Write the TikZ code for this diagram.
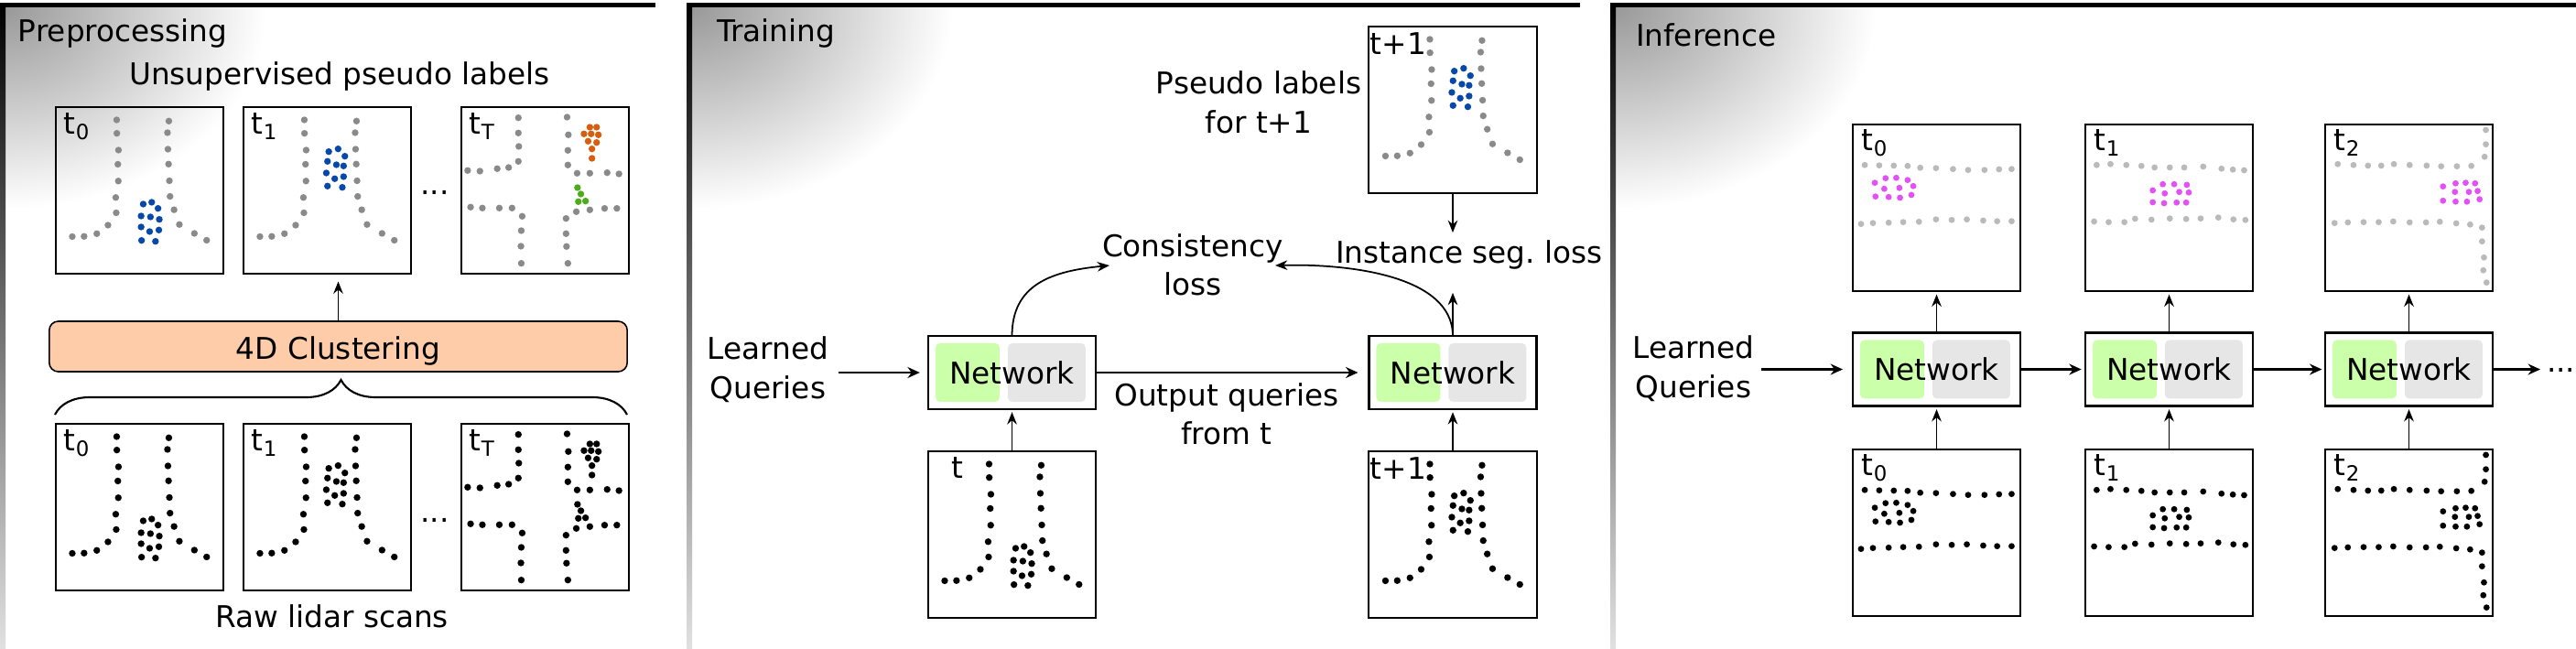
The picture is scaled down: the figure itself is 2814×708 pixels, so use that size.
\documentclass[tikz,border=0pt]{standalone}
\usepackage{fontspec}
\setmainfont{DejaVu Sans}
\usetikzlibrary{arrows.meta, calc, decorations.pathreplacing}
\frenchspacing

\definecolor{pgray}{RGB}{138,138,138}
\definecolor{lgray}{RGB}{186,186,186}
\definecolor{pblue}{RGB}{8,72,170}
\definecolor{porange}{RGB}{214,94,14}
\definecolor{pgreen}{RGB}{78,172,28}
\definecolor{pmag}{RGB}{226,80,246}
\definecolor{peach}{RGB}{255,204,170}
\definecolor{netgreen}{RGB}{204,255,170}
\definecolor{netgray}{RGB}{230,230,230}

% Y-shaped road (box-relative, pixels)
\def\Yroad{66.5/14, 66.7/28.7, 68.5/47, 67.8/62.5, 68.3/80.8, 65.5/98.8, 66/115.5, 57/129, 44.8/138.3, 30.9/141.3, 18/141.5, 123.5/15.3, 122/28, 122.5/46, 123.2/62.3, 124.1/80.5, 124.8/97.6, 129.2/112.2, 135/128.3, 151.4/138, 164.8/145.5}
\def\ClA{95.5/106, 104.8/104, 111.7/110.7, 93.2/119, 103.4/120, 113.1/122.7, 93.2/131, 102.5/136, 112.6/134.3, 93.7/145.7, 108.9/146.7}
\def\ClB{93.2/48.7, 103.4/45.7, 110.8/53.7, 91.8/59.3, 101.5/63, 109.4/64.3, 90.5/72, 99.7/78.3, 109.4/76, 91.8/86.3, 108/87.7}
% crossing
\def\Cross{62.3/11.7, 62.3/28.3, 62.8/43, 62.3/59.3, 6.9/69.3, 20.3/70, 39.2/67.3, 51.7/66, 115.5/11, 116.9/30.3, 116.4/47.3, 116.4/63.3, 126.5/72.3, 140.4/72.3, 159.3/71.7, 172.2/73, 10.1/109.3, 23/110.3, 41.5/110.3, 55.4/110.3, 66.5/119.3, 65.5/135, 65.1/152, 65.5/170.7, 125.6/114.3, 140.4/112.3, 156.5/110.7, 169.9/110.7, 114.4/121.7, 114.4/138.3, 114.9/152.3, 116.4/170.7}
\def\ClOr{140.4/22, 147.8/22, 134/29.3, 141.8/29.3, 149.7/30.3, 138.5/37.3, 147.8/38.7, 142.7/45.7, 142.7/56}
\def\ClGr{126.9/88, 130.6/95, 127.8/103.3, 135.7/102.7}
% inference roads
\def\RoadA{13.1/44.3, 28.9/44.7, 44.8/45, 59.9/45.3, 73.7/47.3, 90.9/47.7, 109.5/48.7, 126/49.7, 143.9/49.7, 159.8/49, 173.5/48.7, 9/108.7, 22/107.7, 39.2/107.3, 55.1/106.7, 72.3/106.3, 90.9/103.7, 108.1/104.3, 124.6/103.7, 142.5/105, 157.7/105.7, 173.5/105.7}
\def\MA{24.1/63.7, 35.8/58.7, 47.5/58.3, 59.9/60.7, 34.4/70.3, 50.9/69.3, 66.1/67.3, 24.8/78.7, 39.2/79.3, 51.6/80, 64/77}
\def\RoadB{12.4/44.3, 27.5/43.3, 44.8/44.3, 61.3/45.3, 75.7/47, 92.3/47, 108.1/47, 128.8/46, 148.8/48.3, 161.2/49.3, 173.5/50, 9.6/106, 25.5/106.7, 42.7/106.7, 54.4/103, 72.3/104, 92.3/102.7, 110.2/103.3, 126/102.7, 145.3/101.7, 161.8/103.7, 174.9/104.3}
\def\MB{84.7/65.3, 97.1/65.3, 110.9/66, 73.7/72, 86.8/75.3, 102.6/73.7, 113/74.3, 73.7/85, 86.1/86, 99.8/85.3, 110.2/85.3}
\def\RoadC{175.6/6, 175.6/21.7, 174.2/35.3, 13.8/43.3, 31/44.3, 46.8/45, 61.3/45, 75.1/43.3, 92.3/44.3, 110.9/45, 126.7/45.7, 143.9/45.7, 159.7/45.3, 10.3/107.7, 24.8/107, 42/106.7, 58.5/106.7, 74.4/106, 92.3/107, 110.2/107, 125.3/106.3, 143.2/108, 158.4/109.3, 171.4/112.7, 171.4/127.7, 173.5/145.3, 172.8/159.3, 176.3/172.7}
\def\MC{128.8/67.7, 142.5/64.3, 153.5/63.7, 163.8/64.3, 141.8/73.7, 157/73.7, 166.6/72.7, 128.8/83.3, 142.5/84.3, 154.9/84.3, 168.7/81.7}

\newcommand\pts[3][3.7]{\foreach \x/\y in #3 {\fill[#2] (\x,\y) circle[radius=#1];}}
\newcommand\netbox[3]{%
  \node[netframe] (#1) at (#2,#3) {};
  \fill[netgreen, rounded corners=1.4pt] ($(#1.north west)+(8,8)$) rectangle ($(#1.north west)+(78,72)$);
  \fill[netgray, rounded corners=1.4pt] ($(#1.north west)+(87,8)$) rectangle ($(#1.north west)+(172,72)$);
  \node[txt, anchor=base] (#1t) at ($(#1.center)+(0,12)$) {Network};
}
\newcommand\panel[2]{% left x, right x
  \begin{scope}
    \clip (#1+6,8) rectangle (#2,708);
    \shade[inner color=black!40, outer color=white] (#1+6,8) ellipse [x radius=285, y radius=220];
  \end{scope}
  \fill[black] (#1,3) rectangle (#2,8);
  \shade[top color=black, bottom color=black!12] (#1,3) rectangle (#1+6,708);
}

\begin{document}
\begin{tikzpicture}[x=0.01cm, y=-0.01cm, font=\fontsize{9.3}{12}\selectfont,
  txt/.style={inner sep=0pt, outer sep=0pt},
  scanbox/.style={draw, line width=0.55pt, minimum width=1.83cm, minimum height=1.82cm, inner sep=0pt, outer sep=0pt},
  netframe/.style={draw, line width=0.65pt, minimum width=1.83cm, minimum height=0.8cm, inner sep=0pt, outer sep=0pt},
  clbox/.style={draw, line width=0.45pt, fill=peach, rounded corners=2.8pt, minimum width=6.31cm, minimum height=0.55cm, inner sep=0pt, outer sep=0pt},
  thinarr/.style={line width=0.5pt, -{Stealth[length=3.8pt, width=3pt]}},
  thickarr/.style={line width=0.65pt, -{Stealth[length=3.8pt, width=3.4pt]}},
  bracestyle/.style={line width=0.6pt, decorate, decoration={brace, amplitude=0.38cm}},
]
\useasboundingbox (0,0) rectangle (2814,708);

% ---------- panels
\panel{0}{716}
\panel{750}{1726}
\panel{1759}{2814}

% ---------- Preprocessing
\node[txt, anchor=base west] (ttl1) at (20,45) {Preprocessing};
\node[txt, anchor=base] (upl) at (371,92) {Unsupervised pseudo labels};

\node[scanbox] (pa) at (152.5,208) {};
\node[scanbox] (pb) at (357.5,208) {};
\node[scanbox] (pc) at (595.5,208) {};
\node[scanbox] (ra) at (152.5,554) {};
\node[scanbox] (rb) at (357.5,554) {};
\node[scanbox] (rc) at (595.5,554) {};

\begin{scope}[shift={(pa.north west)}]
  \pts{pgray}{\Yroad} \pts{pblue}{\ClA}
  \node[txt, anchor=base west] (pal) at (9,29.5) {t\textsubscript{0}};
\end{scope}
\begin{scope}[shift={(pb.north west)}]
  \pts{pgray}{\Yroad} \pts{pblue}{\ClB}
  \node[txt, anchor=base west] (pbl) at (9,29.5) {t\textsubscript{1}};
\end{scope}
\begin{scope}[shift={(pc.north west)}]
  \pts{pgray}{\Cross} \pts{porange}{\ClOr} \pts{pgreen}{\ClGr}
  \node[txt, anchor=base west] (pcl) at (9,29.5) {t\textsubscript{T}};
\end{scope}
\begin{scope}[shift={(ra.north west)}]
  \pts{black}{\Yroad} \pts{black}{\ClA}
  \node[txt, anchor=base west] (ral) at (9,29.5) {t\textsubscript{0}};
\end{scope}
\begin{scope}[shift={(rb.north west)}]
  \pts{black}{\Yroad} \pts{black}{\ClB}
  \node[txt, anchor=base west] (rbl) at (9,29.5) {t\textsubscript{1}};
\end{scope}
\begin{scope}[shift={(rc.north west)}]
  \pts{black}{\Cross} \pts{black}{\ClOr} \pts{black}{\ClGr}
  \node[txt, anchor=base west] (rcl) at (9,29.5) {t\textsubscript{T}};
\end{scope}

\node[txt, anchor=base] (pdots) at (475,212) {...};
\node[txt, anchor=base] (rdots) at (475,570) {...};

\node[clbox] (clust) at (369.5,378.5) {};
\node[txt, anchor=base] (clustt) at (369.5,392) {4D Clustering};
\draw[thinarr, shorten >=2.4pt] (clust.north) -- (clust.north |- pb.south);

\coordinate (brL) at (60,453);
\coordinate (brR) at (685,453);
\draw[bracestyle] (brL) -- (brR);

\node[txt, anchor=base] (raw) at (362.5,685) {Raw lidar scans};

% ---------- Training
\node[txt, anchor=base west] (ttl2) at (783,45) {Training};
\node[scanbox] (ps) at (1587,120) {};
\node[scanbox] (tt) at (1105.5,584) {};
\node[scanbox] (tu) at (1587,584) {};
\begin{scope}[shift={(ps.north west)}]
  \pts{pgray}{\Yroad} \pts{pblue}{\ClB}
  \node[txt, anchor=base west] (psl) at (1.5,31) {t+1};
\end{scope}
\begin{scope}[shift={(tt.north west)}]
  \pts{black}{\Yroad} \pts{black}{\ClA}
  \node[txt, anchor=base west] (ttl) at (25.6,30) {t};
\end{scope}
\begin{scope}[shift={(tu.north west)}]
  \pts{black}{\Yroad} \pts{black}{\ClB}
  \node[txt, anchor=base west] (tul) at (1.5,31) {t+1};
\end{scope}

\netbox{n1}{1105.5}{407}
\netbox{n2}{1587}{407}

\node[txt, anchor=north, align=center] (pst) at (1375,78) {Pseudo labels\\for t+1};
\node[txt, anchor=north, align=center] (lq1) at (839,368) {Learned\\Queries};
\node[txt, anchor=north, align=center] (oq) at (1340,418.6) {Output queries\\from t};
\node[txt, anchor=north, align=center] (cons) at (1303,255.6) {Consistency\\loss};
\node[txt, anchor=base] (inst) at (1605,287) {Instance seg. loss};

\draw[thickarr, shorten <=3pt, shorten >=2.6pt] (lq1.east |- n1.west) -- (n1.west);
\draw[thickarr, shorten >=3.4pt] (n1.east) -- (n2.west);
\draw[thinarr, shorten >=0.9pt] (tt.north) -- (n1.south);
\draw[thinarr, shorten >=0.9pt] (tu.north) -- (n2.south);
\draw[thinarr, shorten >=2.3pt] (ps.south) -- (ps.south |- inst.north);
\draw[thinarr, shorten >=7.4pt] (n2.north) -- (n2.north |- inst.south);

\coordinate (cL) at (1212,290);
\coordinate (cR) at (1393,290);
\draw[thinarr] (n1.north) .. controls +(0,-57) and +(-62,6) .. (cL);
\draw[thinarr] (n2.north) .. controls +(0,-67) and +(77,-2) .. (cR);

% ---------- Inference
\node[txt, anchor=base west] (ttl3) at (1787,50) {Inference};

\node[scanbox] (ia) at (2115.5,227) {};
\node[scanbox] (ib) at (2369.5,227) {};
\node[scanbox] (ic) at (2631.5,227) {};
\node[scanbox] (ja) at (2115.5,582) {};
\node[scanbox] (jb) at (2369.5,582) {};
\node[scanbox] (jc) at (2631.5,582) {};

\begin{scope}[shift={(ia.north west)}]
  \pts[3.4]{lgray}{\RoadA} \pts[3.4]{pmag}{\MA}
  \node[txt, anchor=base west] (ial) at (10,28.5) {t\textsubscript{0}};
\end{scope}
\begin{scope}[shift={(ib.north west)}]
  \pts[3.4]{lgray}{\RoadB} \pts[3.4]{pmag}{\MB}
  \node[txt, anchor=base west] (ibl) at (10,28.5) {t\textsubscript{1}};
\end{scope}
\begin{scope}[shift={(ic.north west)}]
  \pts[3.4]{lgray}{\RoadC} \pts[3.4]{pmag}{\MC}
  \node[txt, anchor=base west] (icl) at (10,28.5) {t\textsubscript{2}};
\end{scope}
\begin{scope}[shift={(ja.north west)}]
  \pts[3.4]{black}{\RoadA} \pts[3.4]{black}{\MA}
  \node[txt, anchor=base west] (jal) at (10,28.5) {t\textsubscript{0}};
\end{scope}
\begin{scope}[shift={(jb.north west)}]
  \pts[3.4]{black}{\RoadB} \pts[3.4]{black}{\MB}
  \node[txt, anchor=base west] (jbl) at (10,28.5) {t\textsubscript{1}};
\end{scope}
\begin{scope}[shift={(jc.north west)}]
  \pts[3.4]{black}{\RoadC} \pts[3.4]{black}{\MC}
  \node[txt, anchor=base west] (jcl) at (10,28.5) {t\textsubscript{2}};
\end{scope}

\netbox{m1}{2115.5}{403.5}
\netbox{m2}{2369.5}{403.5}
\netbox{m3}{2631.5}{403.5}

\node[txt, anchor=north, align=center] (lq2) at (1850,367) {Learned\\Queries};

\draw[thickarr, shorten <=2.3pt, shorten >=3.1pt] (lq2.east |- m1.west) -- (m1.west);
\draw[thickarr, shorten >=1.2pt] (m1.east) -- (m2.west);
\draw[thickarr, shorten >=1pt] (m2.east) -- (m3.west);
\coordinate (mend) at (2775,403.5);
\draw[thickarr] (m3.east) -- (mend);
\node[txt, anchor=base west] (mdots) at (2782,406) {...};

\draw[thinarr, shorten >=1pt] (m1.north) -- (ia.south);
\draw[thinarr, shorten >=1pt] (m2.north) -- (ib.south);
\draw[thinarr, shorten >=1pt] (m3.north) -- (ic.south);
\draw[thinarr, shorten >=1pt] (ja.north) -- (m1.south);
\draw[thinarr, shorten >=1pt] (jb.north) -- (m2.south);
\draw[thinarr, shorten >=1pt] (jc.north) -- (m3.south);
\end{tikzpicture}
\end{document}
